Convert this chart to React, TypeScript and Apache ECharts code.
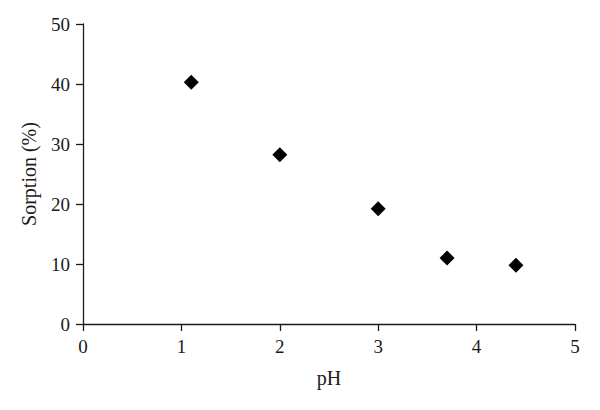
import React, { useEffect, useRef } from "react";
import * as echarts from "echarts";

const phValues = [1.1, 2, 3, 3.7, 4.4];
const sorptionValues = [40.3, 28.2, 19.2, 11.0, 9.8];
const xName = "pH";
const yName = "Sorption (%)";

export default function App() {
  const ref = useRef<HTMLDivElement>(null);
  useEffect(() => {
    if (!ref.current) return;
    const chart = echarts.init(ref.current, null, { renderer: "svg" });
    const font = "'Liberation Serif', 'DejaVu Serif', serif";
    const axisCommon = {
      axisLine: { show: true, onZero: false, lineStyle: { color: "#1a1a1a", width: 1.3 } },
      axisTick: { show: true, length: 7, inside: false, lineStyle: { color: "#1a1a1a", width: 1.3 } },
      splitLine: { show: false },
      axisLabel: { color: "#1a1a1a", fontSize: 19, fontFamily: font, margin: 13 },
      nameTextStyle: { color: "#1a1a1a", fontSize: 20, fontFamily: font },
      nameLocation: "middle" as const,
    };
    chart.setOption({
      animation: false,
      backgroundColor: "#ffffff",
      grid: { left: 83, right: 25, top: 24, bottom: 86, containLabel: false },
      xAxis: {
        type: "value",
        min: 0,
        max: 5,
        interval: 1,
        name: xName,
        nameGap: 44,
        ...axisCommon,
      },
      yAxis: {
        type: "value",
        min: 0,
        max: 50,
        interval: 10,
        name: yName,
        nameGap: 44,
        ...axisCommon,
      },
      series: [
        {
          type: "scatter",
          data: phValues.map((x, i) => [x, sorptionValues[i]]),
          symbol: "diamond",
          symbolSize: [15, 15],
          itemStyle: { color: "#000000", opacity: 1 },
        },
      ],
    });
    return () => chart.dispose();
  }, []);
  return (
    <div
      ref={ref}
      style={{ position: "fixed", left: 0, top: 0, width: 600, height: 410, background: "#fff" }}
    />
  );
}
